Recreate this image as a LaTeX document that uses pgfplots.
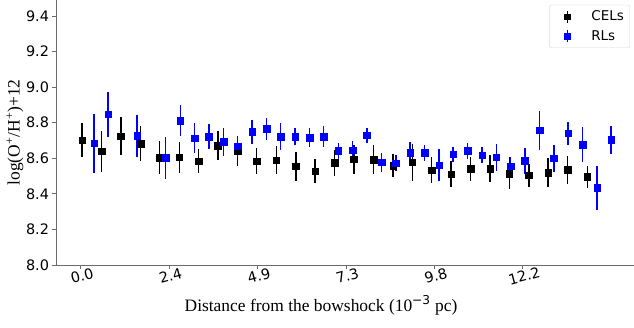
\documentclass[border=0pt]{standalone}
\usepackage{fontspec}
\setmainfont{DejaVu Sans}
\newfontfamily\timesf{Liberation Serif}
\usepackage{pgfplots}
\pgfplotsset{compat=1.18}
\definecolor{spine}{gray}{0.42}
\definecolor{rlblue}{RGB}{0,0,255}
\begin{document}
\begin{tikzpicture}
\path[use as bounding box] (-56bp,-63bp) rectangle (578bp,265bp);
\begin{axis}[
  scale only axis, width=578bp, height=265bp,
  at={(0,0)}, anchor=south west,
  xmin=-0.68, xmax=15.27, ymin=8.0, ymax=9.49,
  axis x line*=bottom, axis y line*=left,
  axis line style={spine, line width=0.8pt, -},
  tick align=outside, major tick length=3.5bp,
  tick style={spine, line width=0.8pt},
  xtick={0,2.44,4.88,7.32,9.76,12.2},
  xticklabels={0.0,2.4,4.9,7.3,9.8,12.2},
  ytick={8.0,8.2,8.4,8.6,8.8,9.0,9.2,9.4},
  yticklabel style={/pgf/number format/.cd, fixed, fixed zerofill, precision=1},
  /pgf/number format/assume math mode=true,
  ticklabel style={font=\fontsize{14.5}{17}\selectfont},
  x tick label style={rotate=15, anchor=north, yshift=1.5bp, xshift=-0.5bp},
  xlabel={\timesf Distance from the bowshock (10\textsuperscript{{\fontspec{DejaVu Sans}−3}} pc)},
  xlabel style={font=\fontsize{17.5}{20}\selectfont, at={(axis description cs:0.4585,-0.1736)}, anchor=base},
  ylabel={\timesf log(O\textsuperscript{+}/H\textsuperscript{+})+12},
  ylabel style={font=\fontsize{17.5}{20}\selectfont, at={(axis description cs:-0.0709,0.5)}, anchor=center, rotate=0},
  legend style={at={(axis description cs:0.993,0.982)}, anchor=north east,
    draw=black!15, rounded corners=2pt, fill=white,
    font=\fontsize{13.5}{16}\selectfont, row sep=4bp, inner xsep=4bp, inner ysep=4bp},
  legend cell align=left,
  error bars/y dir=both, error bars/y explicit,
  error bars/error mark=none,
]
\addplot[only marks, mark=square*, mark size=3.3bp, black,
  error bars/error bar style={line width=1.4pt, black},
  legend image code/.code={\path[draw=none, fill=none] (0cm,0cm) rectangle (1.27cm,0.01cm);
     \draw[line width=1.4pt, sharp corners] (0.49cm,-0.21cm)--(0.49cm,0.21cm);
     \fill[sharp corners] (0.49cm,0cm) +(-2.8bp,-2.8bp) rectangle +(2.8bp,2.8bp);}]
coordinates {
(0.04,8.701) +- (0,0.095)
(0.58,8.639) +- (0,0.115)
(1.11,8.725) +- (0,0.105)
(1.65,8.682) +- (0,0.100)
(2.18,8.603) +- (0,0.094)
(2.72,8.605) +- (0,0.085)
(3.26,8.583) +- (0,0.067)
(3.79,8.671) +- (0,0.080)
(4.33,8.639) +- (0,0.080)
(4.86,8.583) +- (0,0.074)
(5.40,8.590) +- (0,0.080)
(5.94,8.555) +- (0,0.080)
(6.47,8.527) +- (0,0.067)
(7.01,8.575) +- (0,0.073)
(7.54,8.594) +- (0,0.082)
(8.08,8.592) +- (0,0.082)
(8.62,8.558) +- (0,0.066)
(9.15,8.577) +- (0,0.103)
(9.69,8.532) +- (0,0.073)
(10.22,8.510) +- (0,0.072)
(10.76,8.540) +- (0,0.065)
(11.30,8.543) +- (0,0.076)
(11.83,8.515) +- (0,0.090)
(12.37,8.504) +- (0,0.064)
(12.90,8.519) +- (0,0.082)
(13.44,8.536) +- (0,0.078)
(13.98,8.495) +- (0,0.064)
};
\addlegendentry{CELs}
\addplot[only marks, mark=square*, mark size=3.3bp, rlblue,
  error bars/error bar style={line width=1.4pt, rlblue},
  legend image code/.code={\path[draw=none, fill=none] (0cm,0cm) rectangle (1.27cm,0.01cm);
     \draw[line width=1.4pt, sharp corners] (0.49cm,-0.21cm)--(0.49cm,0.21cm);
     \fill[sharp corners] (0.49cm,0cm) +(-2.8bp,-2.8bp) rectangle +(2.8bp,2.8bp);}]
coordinates {
(0.37,8.684) +- (0,0.165)
(0.76,8.847) +- (0,0.125)
(1.56,8.727) +- (0,0.117)
(2.35,8.603) +- (0,0.118)
(2.75,8.813) +- (0,0.085)
(3.14,8.714) +- (0,0.087)
(3.54,8.723) +- (0,0.070)
(3.94,8.693) +- (0,0.080)
(4.33,8.667) +- (0,0.060)
(4.73,8.748) +- (0,0.068)
(5.13,8.766) +- (0,0.061)
(5.52,8.723) +- (0,0.075)
(5.92,8.723) +- (0,0.050)
(6.32,8.716) +- (0,0.055)
(6.71,8.723) +- (0,0.058)
(7.11,8.641) +- (0,0.047)
(7.51,8.645) +- (0,0.050)
(7.90,8.729) +- (0,0.042)
(8.30,8.577) +- (0,0.055)
(8.70,8.573) +- (0,0.045)
(9.09,8.633) +- (0,0.060)
(9.49,8.631) +- (0,0.044)
(9.89,8.562) +- (0,0.088)
(10.28,8.622) +- (0,0.044)
(10.68,8.641) +- (0,0.045)
(11.08,8.617) +- (0,0.045)
(11.47,8.605) +- (0,0.075)
(11.87,8.555) +- (0,0.055)
(12.26,8.586) +- (0,0.073)
(12.66,8.757) +- (0,0.110)
(13.06,8.600) +- (0,0.076)
(13.45,8.740) +- (0,0.064)
(13.85,8.678) +- (0,0.100)
(14.25,8.433) +- (0,0.122)
(14.64,8.704) +- (0,0.080)
};
\addlegendentry{RLs}
\end{axis}
\end{tikzpicture}
\end{document}
